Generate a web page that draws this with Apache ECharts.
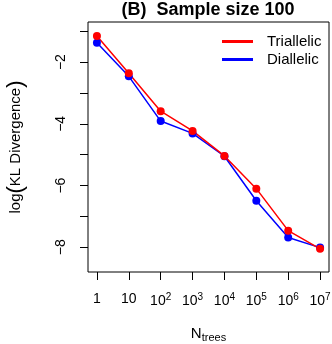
<!DOCTYPE html>
<html>
<head>
    <meta charset="utf-8" />
    <title>Sample size 100</title>
    <script src="https://cdn.jsdelivr.net/npm/echarts@6/dist/echarts.min.js"></script>
    <style>
        html, body { margin: 0; padding: 0; background: #fff; }
        #main { width: 332px; height: 344px; }
    </style>
</head>
<body>
    <div id="main"></div>

    <script type="text/javascript">
        // N trees: 1, 10, 10^2 ... 10^7 (plotted at index 1..8)
        var treeLabels = ['1', '10', '10^2', '10^3', '10^4', '10^5', '10^6', '10^7'];
        var triallelic = [-1.15, -2.36, -3.59, -4.23, -5.04, -6.10, -7.46, -8.05];
        var diallelic = [-1.37, -2.46, -3.91, -4.31, -5.05, -6.49, -7.68, -8.01];
        var yTicks = [-1, -2, -3, -4, -5, -6, -7, -8];
        var yLabels = [-2, -4, -6, -8];

        var font = 'Liberation Sans';

        function toPoints(arr) {
            var out = [];
            for (var i = 0; i < arr.length; i++) {
                out.push([i + 1, arr[i]]);
            }
            return out;
        }
        var xTicks = [];
        for (var i = 0; i < treeLabels.length; i++) xTicks.push(i + 1);

        var option = {
            animation: false,
            title: {
                text: '(B)  Sample size 100',
                left: 208,
                textAlign: 'center',
                top: 1,
                padding: 0,
                textStyle: { fontFamily: font, fontSize: 18, fontWeight: 'bold', color: '#000' }
            },
            legend: {
                orient: 'vertical',
                left: 217,
                top: 29,
                itemGap: 3,
                itemWidth: 31,
                itemHeight: 3,
                icon: 'rect',
                data: ['Triallelic', 'Diallelic'],
                textStyle: { fontFamily: font, fontSize: 15, color: '#000', padding: [0, 0, 0, 9] }
            },
            grid: {
                left: 88,
                top: 22,
                right: 3,
                bottom: 72,
                show: true,
                borderColor: '#000',
                borderWidth: 1,
                containLabel: false,
                outerBoundsMode: 'none'
            },
            xAxis: {
                type: 'value',
                min: 0.72,
                max: 8.28,
                name: 'N{sub|trees}',
                nameLocation: 'middle',
                nameGap: 52,
                nameTextStyle: {
                    fontFamily: font, fontSize: 15, color: '#000',
                    rich: { sub: { fontFamily: font, fontSize: 11, color: '#000', padding: [8, 0, 0, 0] } }
                },
                axisLine: { show: false },
                splitLine: { show: false },
                axisTick: { show: true, length: 8, customValues: xTicks, lineStyle: { color: '#000' } },
                axisLabel: {
                    customValues: xTicks,
                    margin: 20,
                    fontFamily: font,
                    fontSize: 14,
                    color: '#000',
                    formatter: function (v) {
                        var s = treeLabels[Math.round(v) - 1];
                        var p = s.split('^');
                        return p.length > 1 ? p[0] + '{sup|' + p[1] + '}' : s;
                    },
                    rich: { sup: { fontFamily: font, fontSize: 10, color: '#000', padding: [0, 0, 8, 0] } }
                }
            },
            yAxis: {
                type: 'value',
                min: -8.8,
                max: -0.7,
                name: 'log{p|(}KL Divergence{p|)}',
                nameLocation: 'middle',
                nameGap: 61,
                nameRotate: 90,
                nameTextStyle: {
                    fontFamily: font, fontSize: 15, color: '#000',
                    rich: { p: { fontFamily: font, fontSize: 22, fontWeight: 'lighter', color: '#000' } }
                },
                axisLine: { show: false },
                splitLine: { show: false },
                axisTick: { show: true, length: 8, customValues: yTicks, lineStyle: { color: '#000' } },
                axisLabel: {
                    customValues: yLabels,
                    rotate: 90,
                    margin: 20,
                    fontFamily: font,
                    fontSize: 14,
                    color: '#000',
                    formatter: function (v) { return String(v).replace('-', '\u2212'); }
                }
            },
            series: [
                {
                    name: 'Diallelic',
                    type: 'line',
                    data: toPoints(diallelic),
                    symbol: 'circle',
                    symbolSize: 8,
                    color: '#0000ff',
                    lineStyle: { width: 1.5, color: '#0000ff' },
                    itemStyle: { color: '#0000ff' }
                },
                {
                    name: 'Triallelic',
                    type: 'line',
                    data: toPoints(triallelic),
                    symbol: 'circle',
                    symbolSize: 8,
                    color: '#ff0000',
                    lineStyle: { width: 1.5, color: '#ff0000' },
                    itemStyle: { color: '#ff0000' }
                }
            ]
        };

        var myChart = echarts.init(document.getElementById('main'));
        myChart.setOption(option);
    </script>
</body>
</html>
